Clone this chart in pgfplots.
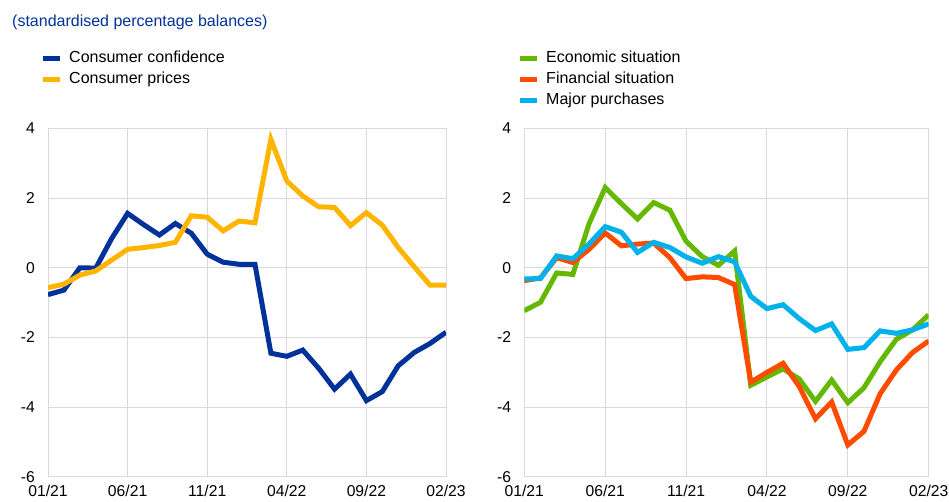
\documentclass[border=0pt]{standalone}
\usepackage{fontspec}
\setmainfont{Liberation Sans}
\usepackage{pgfplots}
\usepackage{pgfplotstable}
\pgfplotsset{compat=1.18}

\definecolor{ecbblue}{RGB}{0,50,153}
\definecolor{ecbyellow}{RGB}{255,180,0}
\definecolor{ecbgreen}{RGB}{101,184,0}
\definecolor{ecbred}{RGB}{255,75,0}
\definecolor{ecbcyan}{RGB}{0,177,234}
\definecolor{gridgray}{RGB}{217,217,217}

% month index 0 = 01/21 ... 25 = 02/23
\pgfplotstableread{
m conf prices econ fin major
0  -0.77 -0.57 -1.23 -0.37 -0.32
1  -0.64 -0.47 -0.99 -0.29 -0.31
2   0.00 -0.21 -0.15  0.29  0.34
3  -0.01 -0.09 -0.19  0.15  0.26
4   0.84  0.22  1.26  0.53  0.68
5   1.56  0.53  2.30  1.00  1.18
6   1.24  0.58  1.84  0.63  1.02
7   0.94  0.64  1.40  0.68  0.44
8   1.27  0.73  1.87  0.71  0.73
9   0.99  1.49  1.65  0.29  0.58
10  0.39  1.45  0.76 -0.31  0.31
11  0.16  1.06  0.32 -0.26  0.13
12  0.10  1.34  0.07 -0.28  0.32
13  0.10  1.29  0.48 -0.48  0.17
14 -2.45  3.68 -3.37 -3.28 -0.82
15 -2.54  2.49 -3.13 -3.00 -1.17
16 -2.36  2.06 -2.90 -2.74 -1.06
17 -2.88  1.75 -3.19 -3.41 -1.46
18 -3.48  1.73 -3.83 -4.33 -1.80
19 -3.05  1.21 -3.22 -3.85 -1.61
20 -3.81  1.58 -3.87 -5.08 -2.34
21 -3.55  1.22 -3.44 -4.69 -2.29
22 -2.81  0.58 -2.69 -3.61 -1.81
23 -2.43  0.03 -2.05 -2.93 -1.88
24 -2.17 -0.50 -1.78 -2.43 -1.78
25 -1.85 -0.50 -1.35 -2.10 -1.61
}\survey

\pgfplotsset{
  ecbpanel/.style={
    scale only axis,
    anchor=south west,
    height=348.7pt,
    xmin=0, xmax=25, ymin=-6, ymax=4,
    xtick={0,5,...,25},
    xticklabels={01/21,06/21,11/21,04/22,09/22,02/23},
    ytick={-6,-4,...,4},
    grid=major,
    major grid style={gridgray, line width=1pt},
    axis line style={gridgray, line width=1pt},
    major tick length=0pt,
    /pgf/number format/assume math mode=true,
    tick label style={font=\fontsize{15.7}{18}\selectfont, text=black, inner sep=0pt},
    yticklabel style={anchor=east, xshift=-13pt},
    xticklabel style={anchor=north, yshift=-8pt},
    every axis plot/.append style={line width=5pt},
    legend image code/.code={\draw[#1, line width=5pt] (0pt,0pt) -- (17pt,0pt);},
    legend cell align=left,
    legend style={draw=none, fill=none, inner sep=0pt, anchor=north west,
      font=\fontsize{16}{18}\selectfont, row sep=7pt,
      nodes={inner sep=0pt, text height=11pt, text depth=3pt},
      /tikz/every odd column/.append style={column sep=7pt}},
  }
}

\begin{document}
\begin{tikzpicture}
\useasboundingbox (0,0) rectangle (949pt,502pt);
\node[anchor=base west, inner sep=0pt, text=ecbblue, font=\fontsize{16}{18}\selectfont]
  at (12pt,475pt) {(standardised percentage balances)};

\begin{axis}[ecbpanel, at={(48pt,25pt)}, width=398pt,
  legend style={at={(-0.02,1.22)}}]
\addplot[ecbblue] table[x=m, y=conf] {\survey};
\addplot[ecbyellow] table[x=m, y=prices] {\survey};
\legend{Consumer confidence, Consumer prices}
\end{axis}

\begin{axis}[ecbpanel, at={(524.3pt,25pt)}, width=404.4pt,
  legend style={at={(-0.018,1.22)}}]
\addplot[ecbgreen] table[x=m, y=econ] {\survey};
\addplot[ecbred] table[x=m, y=fin] {\survey};
\addplot[ecbcyan] table[x=m, y=major] {\survey};
\legend{Economic situation, Financial situation, Major purchases}
\end{axis}
\end{tikzpicture}
\end{document}
